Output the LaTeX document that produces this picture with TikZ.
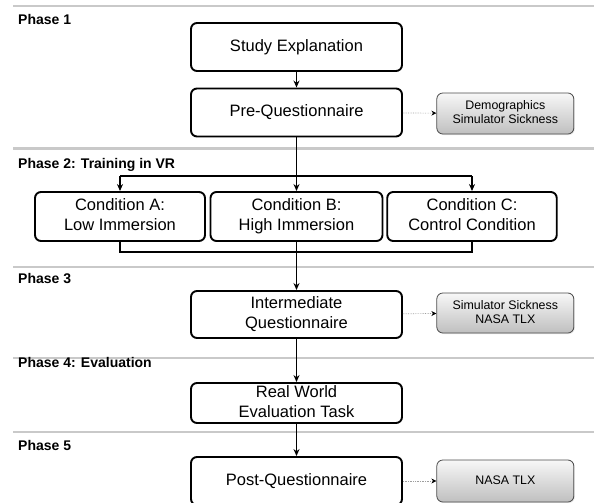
\documentclass[tikz,border=0pt]{standalone}
\usepackage{fontspec}
\setmainfont{Liberation Sans}
\usetikzlibrary{arrows.meta,shadows}
\begin{document}
\begin{tikzpicture}[x=1pt,y=-1pt,
  mainbox/.style={draw=black,line width=1.9pt,rounded corners=6pt,fill=white,
    align=center,inner sep=0pt,font={\fontsize{16.5}{20}\selectfont},minimum width=211pt,minimum height=48pt,
    execute at begin node={\rule{0pt}{12pt}},execute at end node={\rule[-3pt]{0pt}{0pt}}},
  twoline/.style={execute at begin node={\rule{0pt}{17.2pt}},execute at end node={\rule[-3.5pt]{0pt}{0pt}}},
  infobox/.style={draw=black!70,line width=0.8pt,rounded corners=6pt,top color=gray!6,bottom color=gray!50,
    align=center,inner sep=0pt,font={\fontsize{12.4}{14}\selectfont},minimum width=137pt,minimum height=41pt,
    execute at begin node={\rule{0pt}{9.6pt}},execute at end node={\rule[-2.6pt]{0pt}{0pt}},
    drop shadow={shadow xshift=1pt,shadow yshift=-1pt,opacity=0.2}},
  phaselabel/.style={anchor=base west,inner sep=0pt,font={\fontsize{14}{16}\selectfont\bfseries}},
  sepline/.style={draw=gray!42,line width=2.6pt},
  arr/.style={draw=black,line width=1.5pt,-{Stealth[length=7pt,width=6pt]}},
  plain/.style={draw=black,line width=1.5pt},
  dotarr/.style={draw=gray!75,line width=0.7pt,densely dotted,-{Stealth[length=5pt,width=5pt,color=black]}}
]
\useasboundingbox (0,0) rectangle (594,503);
\clip (0,0) rectangle (594,503);
% separators
\foreach \yy in {6,148.5,267,358,432} \draw[sepline] (13,\yy) -- (594,\yy);
% phase labels
\node[phaselabel] (p1) at (18,25) {Phase 1};
\node[phaselabel] (p2) at (18,168) {Phase 2: Training in VR};
\node[phaselabel] (p3) at (18,283) {Phase 3};
\node[phaselabel] (p4) at (18,367) {Phase 4: Evaluation};
\node[phaselabel] (p5) at (18,450) {Phase 5};
% main boxes
\node[mainbox] (study) at (296.5,47) {Study Explanation};
\node[mainbox] (pre) at (296.5,112.5) {Pre-Questionnaire};
\node[mainbox,twoline,minimum width=170pt,minimum height=49pt] (A) at (120,216.5) {Condition A:\\Low Immersion};
\node[mainbox,twoline,minimum width=172pt,minimum height=49pt] (B) at (296.5,216.5) {Condition B:\\High Immersion};
\node[mainbox,twoline,minimum width=169.5pt,minimum height=49pt] (C) at (472,216.5) {Condition C:\\Control Condition};
\node[mainbox,twoline,minimum height=47pt] (inter) at (296.5,314.5) {Intermediate\\Questionnaire};
\node[mainbox,twoline,minimum height=40pt] (real) at (296.5,403) {Real World\\Evaluation Task};
\node[mainbox] (post) at (296.5,481) {Post-Questionnaire};
% info boxes
\node[infobox] (demo) at (505.3,113.5) {Demographics\\Simulator Sickness};
\node[infobox,minimum height=40pt] (sim) at (505.3,313) {Simulator Sickness\\NASA TLX};
\node[infobox,minimum height=42pt,execute at end node={}] (tlx) at (505.3,481) {NASA TLX};
% coordinates
\coordinate (busL) at (120,176);
\coordinate (busR) at (472,176);
\coordinate (botL) at (120,252);
\coordinate (botR) at (472,252);
% connectors
\draw[arr] (study) -- (pre);
\draw[arr] (pre) -- (B);
\draw[plain] (busL) -- (busR);
\draw[arr] (busL) -- (A);
\draw[arr] (busR) -- (C);
\draw[plain,line join=miter] (A) -- (botL) -- (botR) -- (C);
\draw[arr] (B) -- (inter);
\draw[arr] (inter) -- (real);
\draw[arr] (real) -- (post);
\draw[dotarr] (pre) -- (demo);
\draw[dotarr] (inter) -- (sim);
\draw[dotarr] (post) -- (tlx);
\end{tikzpicture}
\end{document}
